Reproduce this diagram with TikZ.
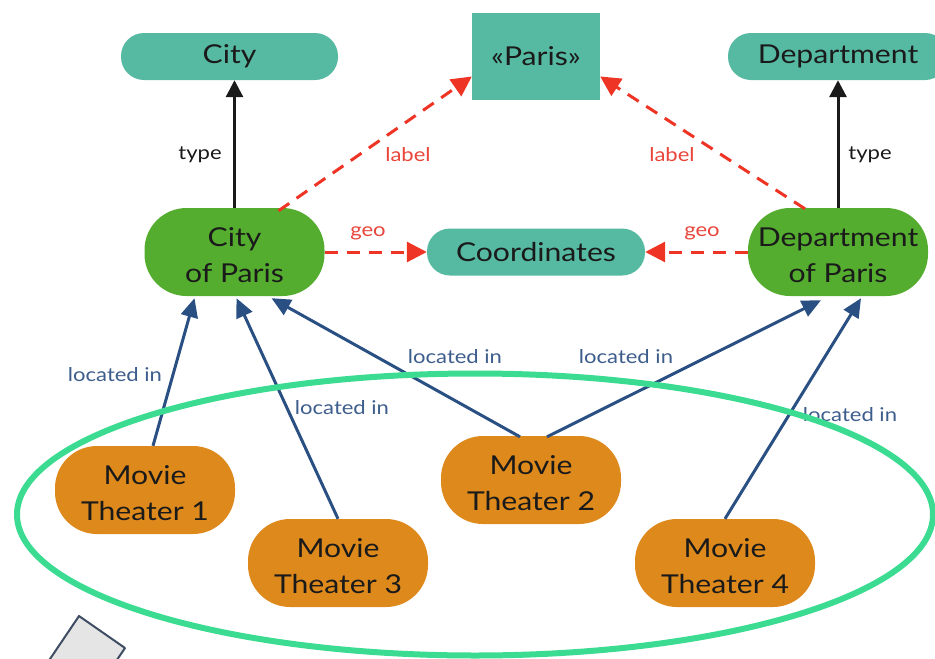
\documentclass[tikz,border=0pt]{standalone}
\usepackage{fontspec}
\setmainfont{Lato}[FakeStretch=1.16]
\usetikzlibrary{arrows.meta,calc}

\definecolor{tealnode}{HTML}{56BAA2}
\definecolor{greennode}{HTML}{55AD30}
\definecolor{orangenode}{HTML}{DE891C}
\definecolor{linkblue}{HTML}{2A5083}
\definecolor{labelblue}{HTML}{3D5D8C}
\definecolor{linkred}{HTML}{EE3424}
\definecolor{labelred}{HTML}{E8463A}
\definecolor{ringgreen}{HTML}{3BDB91}
\definecolor{inktext}{HTML}{1A1A1A}
\definecolor{boxgray}{HTML}{E5E5E5}
\definecolor{boxedge}{HTML}{3F4D63}

\tikzset{
  base/.style={inner sep=0pt, align=center, text=inktext,
    font=\fontsize{26}{35.5}\selectfont},
  classnode/.style={base, fill=tealnode, minimum width=#1, minimum height=47pt,
    rounded corners=23pt},
  literal/.style={base, fill=tealnode, minimum width=128pt, minimum height=87pt},
  entity/.style={base, fill=greennode, minimum width=180pt, minimum height=88pt,
    rounded corners=42pt},
  theater/.style={base, fill=orangenode, minimum width=180pt, minimum height=88pt,
    rounded corners=42pt},
  typeedge/.style={line width=3pt, draw=inktext,
    -{Triangle[length=17pt,width=17pt]}},
  attredge/.style={line width=3pt, draw=linkred, dash pattern=on 13pt off 9pt,
    -{Triangle[length=20pt,width=20pt]}},
  locedge/.style={line width=3pt, draw=linkblue,
    -{Triangle[length=19pt,width=17pt]}},
  tag/.style={inner sep=0pt, font=\fontsize{19}{22}\selectfont},
  redtag/.style={tag, text=labelred},
  bluetag/.style={tag, text=labelblue},
  blacktag/.style={tag, text=inktext},
}

\begin{document}
\begin{tikzpicture}[x=1pt, y=-1pt]
\useasboundingbox (0,0) rectangle (935,659);
\clip (0,0) rectangle (935,659);

% classes and literal
\node[classnode=217pt] (city) at (229.5,56.5) {City};
\node[literal] (paris) at (536,56.5) {«Paris»};
\node[classnode=220pt] (dept) at (838,56.5) {Department};

% entities
\node[entity] (cityp) at (234.5,252) {\strut City\\of Paris};
\node[classnode=218pt] (coords) at (536,252) {Coordinates};
\node[entity] (deptp) at (838,252) {\strut Department\\of Paris};

% movie theaters
\node[theater] (mt1) at (145,490) {\strut Movie\\Theater 1};
\node[theater] (mt2) at (531,480) {\strut Movie\\Theater 2};
\node[theater] (mt3) at (338,563) {\strut Movie\\Theater 3};
\node[theater] (mt4) at (725,563) {\strut Movie\\Theater 4};

% type links
\draw[typeedge] (cityp.north) -- (cityp.north |- city.south);
\draw[typeedge] (deptp.north) -- (deptp.north |- dept.south);
\node[blacktag] (t1) at (200,155) {type};
\node[blacktag] (t2) at (870,155) {type};

% label links
\draw[attredge] ($(cityp.north)+(44,3)$) -- ($(paris.west)+(0,20)$);
\draw[attredge] ($(deptp.north)+(-33,1)$) -- ($(paris.east)+(0,20)$);
\node[redtag] (l1) at (408,155) {label};
\node[redtag] (l2) at (672,155) {label};

% geo links
\draw[attredge] (cityp.east) -- (coords.west);
\draw[attredge] (deptp.west) -- (coords.east);
\node[redtag] (g1) at (368,233) {geo};
\node[redtag] (g2) at (702,233) {geo};

% located in links
\draw[locedge] ($(mt1.north)+(8,0)$) -- ($(cityp.south)+(-40,2)$);
\draw[locedge] (mt3.north) -- ($(cityp.south)+(2,2)$);
\draw[locedge] ($(mt2.north)+(-11,1)$) -- ($(cityp.south)+(37,2)$);
\draw[locedge] ($(mt2.north)+(16,1)$) -- ($(deptp.south)+(-17,4)$);
\draw[locedge] (mt4.north) -- ($(deptp.south)+(23,2)$);
\node[bluetag] (li1) at (115,375) {located in};
\node[bluetag] (li2) at (342,408) {located in};
\node[bluetag] (li3) at (455,357) {located in};
\node[bluetag] (li4) at (626,357) {located in};
\node[bluetag] (li5) at (850,415) {located in};

% grouping ring around the theaters
\draw[ringgreen, line width=6pt] (475,514.5) ellipse [x radius=458, y radius=141];

% tilted gray sheet in the corner
\draw[fill=boxgray, draw=boxedge, line width=2pt, line join=round]
  (79,616) -- (125,648) -- (67,734) -- (21,702) -- cycle;
\end{tikzpicture}
\end{document}
